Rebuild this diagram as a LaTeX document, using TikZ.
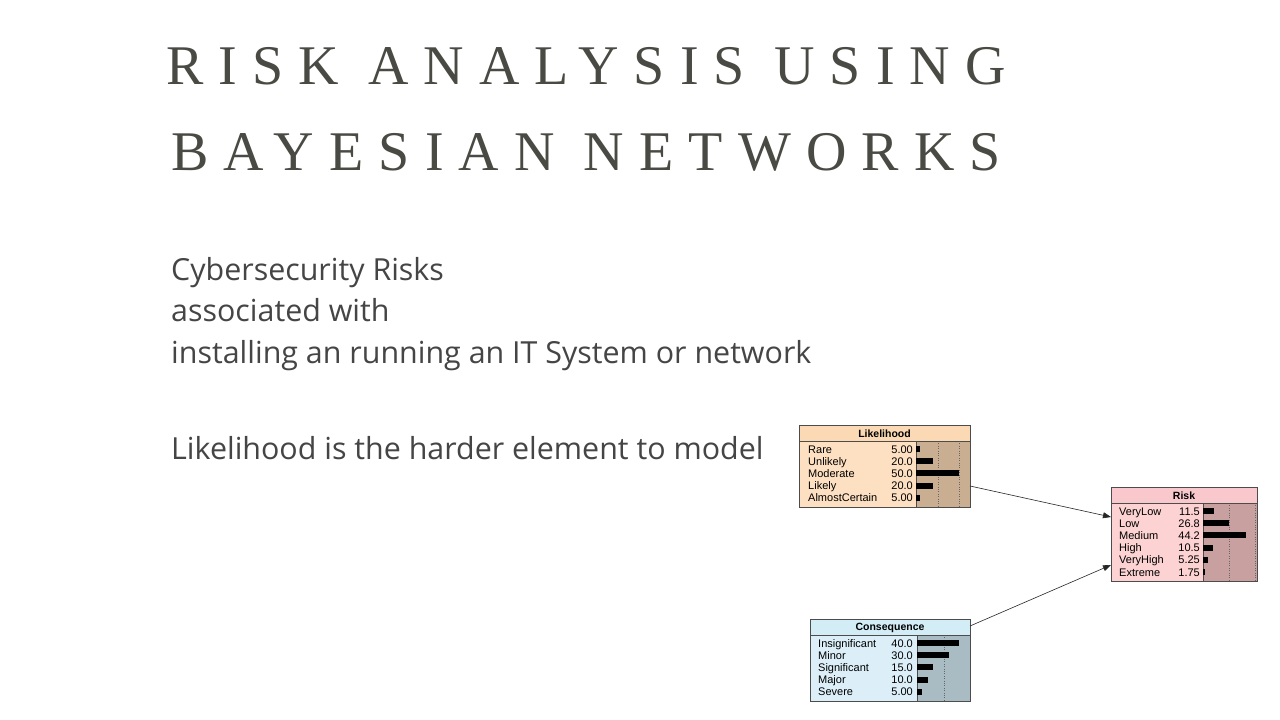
\documentclass[tikz,border=0pt]{standalone}
\usepackage{fontspec}
\setmainfont{Liberation Serif}
\newfontfamily\bodyfont{Open Sans}
\newfontfamily\tabfont{Liberation Sans}
\newfontfamily\titlefont[LetterSpace=27]{Liberation Serif}
\usetikzlibrary{arrows.meta}
\definecolor{titlegray}{HTML}{4A4A44}
\definecolor{bodygray}{HTML}{454545}
\definecolor{lhead}{HTML}{FAD9B4}
\definecolor{lbody}{HTML}{FDE0C2}
\definecolor{lbar}{HTML}{C9AE92}
\definecolor{rhead}{HTML}{F9C8CC}
\definecolor{rbody}{HTML}{FCD2D2}
\definecolor{rbar}{HTML}{C9A0A0}
\definecolor{chead}{HTML}{D3EDF7}
\definecolor{cbody}{HTML}{DCEFF8}
\definecolor{cbar}{HTML}{A9BCC3}
\tikzset{
  x=1pt,y=-1pt,
  titletext/.style={anchor=base,text=titlegray,font=\titlefont\fontsize{56}{56}\selectfont,inner sep=0},
  bodytext/.style={anchor=base west,text=bodygray,font=\bodyfont\fontsize{30.4}{30.4}\selectfont,inner sep=0},
  boxframe/.style={draw=black!70,line width=0.8pt,inner sep=0,anchor=north west},
  hdr/.style={font=\tabfont\bfseries\fontsize{10.5}{10.5}\selectfont,inner sep=0},
  lbl/.style={font=\tabfont\fontsize{11}{11}\selectfont,anchor=base west,inner sep=0},
  val/.style={font=\tabfont\fontsize{11}{11}\selectfont,anchor=base east,inner sep=0},
  conn/.style={draw=black!85,line width=0.6pt,-{Triangle[length=8pt,width=6pt]}},
}
\begin{document}
\begin{tikzpicture}
\useasboundingbox[fill=white] (0,0) rectangle (1280,720);
\node[titletext] (t1) at (586,84) {RISK ANALYSIS USING};
\node[titletext] (t2) at (586,170) {BAYESIAN NETWORKS};
\node[bodytext] (b1) at (171,280) {Cybersecurity Risks};
\node[bodytext] (b2) at (171,321) {associated with};
\node[bodytext] (b3) at (171,363) {installing an running an IT System or network};
\node[bodytext] (b4) at (171,459) {Likelihood is the harder element to model};

% Likelihood
\fill[lbody] (799,441) rectangle (916,507);
\fill[lbar] (916,441) rectangle (970,507);
\fill[lhead] (799,425) rectangle (970,441);
\draw[black!60,dotted] (938,441)--(938,507) (959,441)--(959,507);
\draw[black!70] (799,441)--(970,441) (916,441)--(916,507);
\node[boxframe,minimum width=171pt,minimum height=82pt] (lik) at (799,425) {};
\node[hdr] at (884.5,433.5) {Likelihood};
\foreach \n/\v/\w [count=\i from 0] in {Rare/5.00/5,Unlikely/20.0/20,Moderate/50.0/50,Likely/20.0/20,AlmostCertain/5.00/5}{
  \node[lbl] at (808,453+12.2*\i) {\n};
  \node[val] at (913,453+12.2*\i) {\v};
  \fill (916,449+12.2*\i-3) rectangle ++(0.86*\w,6);
}

% Consequence
\fill[cbody] (810,635) rectangle (917,701);
\fill[cbar] (917,635) rectangle (970,701);
\fill[chead] (810,619) rectangle (970,635);
\draw[black!60,dotted] (944,635)--(944,701);
\draw[black!70] (810,635)--(970,635) (917,635)--(917,701);
\node[boxframe,minimum width=160pt,minimum height=82pt] (con) at (810,619) {};
\node[hdr] at (890,627.5) {Consequence};
\foreach \n/\v/\w [count=\i from 0] in {Insignificant/40.0/40,Minor/30.0/30,Significant/15.0/15,Major/10.0/10,Severe/5.00/5}{
  \node[lbl] at (818,647+12.2*\i) {\n};
  \node[val] at (913,647+12.2*\i) {\v};
  \fill (917,643+12.2*\i-3) rectangle ++(1.05*\w,6);
}

% Risk
\fill[rbody] (1111,503) rectangle (1203,581);
\fill[rbar] (1203,503) rectangle (1257,581);
\fill[rhead] (1111,487) rectangle (1257,503);
\draw[black!60,dotted] (1229,503)--(1229,581) (1255,503)--(1255,581);
\draw[black!70] (1111,503)--(1257,503) (1203,503)--(1203,581);
\node[boxframe,minimum width=146pt,minimum height=94pt] (risk) at (1111,487) {};
\node[hdr] at (1184,495.5) {Risk};
\foreach \n/\v/\w [count=\i from 0] in {VeryLow/11.5/11.5,Low/26.8/26.8,Medium/44.2/44.2,High/10.5/10.5,VeryHigh/5.25/5.25,Extreme/1.75/1.75}{
  \node[lbl] at (1119,515+12.2*\i) {\n};
  \node[val] at (1200,515+12.2*\i) {\v};
  \fill (1203,511+12.2*\i-3) rectangle ++(0.97*\w,6);
}

\coordinate (la) at (970,486);
\coordinate (ra) at (1111,517);
\coordinate (ca) at (970,626);
\coordinate (rb) at (1111,565);
\draw[conn] (la) -- (ra);
\draw[conn] (ca) -- (rb);
\end{tikzpicture}
\end{document}
